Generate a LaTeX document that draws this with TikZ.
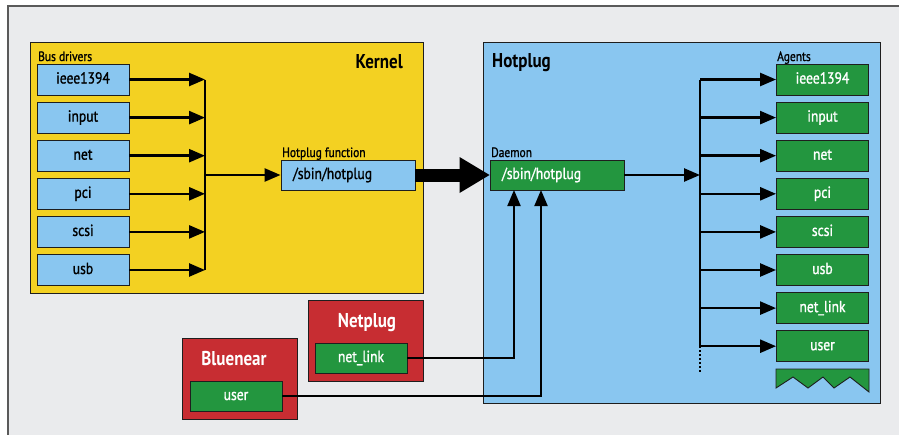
\documentclass[tikz,border=0pt]{standalone}
\usepackage{fontspec}
\setmainfont{PT Sans}[FakeStretch=0.85, UprightFeatures={FakeBold=1.2}]
\usepackage{tikz}
\usetikzlibrary{arrows.meta,positioning}
\definecolor{paper}{HTML}{EAEBED}
\definecolor{frame}{HTML}{5A5A5A}
\definecolor{edge}{HTML}{1E1E1E}
\definecolor{kernelbg}{HTML}{F3D122}
\definecolor{sky}{HTML}{89C6F0}
\definecolor{leaf}{HTML}{23963F}
\definecolor{plugred}{HTML}{C72D32}
\tikzset{
  panel/.style={draw=edge, line width=0.9pt, inner sep=0pt},
  drvbox/.style={draw=edge, line width=0.9pt, fill=sky, minimum width=92pt, minimum height=31pt, inner sep=0pt, text height=11pt, text depth=3pt, font=\fontsize{16}{18}\selectfont},
  agentbox/.style={drvbox, fill=leaf, text=white},
  cmdbox/.style={drvbox, minimum height=30pt, text width=110pt, align=left, inner xsep=12pt},
  tag/.style={font=\fontsize{13.5}{15}\selectfont, anchor=base west, inner sep=0pt},
  title/.style={font=\bfseries\fontsize{20}{22}\selectfont, inner sep=0pt},
  wire/.style={line width=2.5pt},
  feed/.style={-{Triangle[length=16pt,width=13pt]}}
}

\begin{document}
\begin{tikzpicture}[x=1pt,y=-1pt]
\useasboundingbox (0,0) rectangle (899,434);
\fill[white] (0,0) rectangle (899,434);
\draw[frame, line width=1.2pt, fill=paper] (8,6) rectangle (912,446);

% kernel side
\node[panel, fill=kernelbg, minimum width=393pt, minimum height=251pt] (kernel) at (226.5,167.5) {};
\node[title, anchor=base east] (kernelname) at (403,68) {Kernel};
\node[tag] (busdrivers) at (38,61) {Bus drivers};
\foreach \i/\name in {0/ieee1394,1/input,2/net,3/pci,4/scsi,5/usb}{
  \node[drvbox] (bus\i) at (83,79.5+38.1*\i) {\name};
}
\node[tag] (hpfunclabel) at (282,157) {Hotplug function};
\node[cmdbox] (hpfunc) at (348,175) {/sbin/hotplug};
\coordinate (kjoin) at (205,175);
\foreach \i in {0,...,5}{
  \draw[wire,feed] (bus\i.east) -- (bus\i.east -| kjoin);
}
\draw[wire] (bus0.east -| kjoin) -- (bus5.east -| kjoin);
\draw[wire,feed] (kjoin) -- (hpfunc.west);

% hotplug side
\node[panel, fill=sky, minimum width=397pt, minimum height=361pt] (hotplug) at (681.5,222.5) {};
\node[title, anchor=base west] (hotplugname) at (492,67) {Hotplug};
\node[tag] (daemonlabel) at (491,157) {Daemon};
\node[cmdbox, fill=leaf, text=white] (daemon) at (557,175) {/sbin/hotplug};
\draw[line width=13pt, -{Triangle[length=30pt,width=36pt,line width=0pt]}] (hpfunc.east) -- (daemon.west);
\node[tag] (agentslabel) at (777,61) {Agents};
\foreach \i/\name in {0/ieee1394,1/input,2/net,3/pci,4/scsi,5/usb,6/net\_link,7/user}{
  \node[agentbox] (agent\i) at (822.5,79.5+38.1*\i) {\name};
}
\coordinate (ajoin) at (700,175);
\coordinate (aend) at (700,373);
\draw[wire,feed] (daemon.east) -- (ajoin);
\draw[wire] (agent0.west -| ajoin) -- (agent7.west -| ajoin);
\draw[line width=2pt, dash pattern=on 2pt off 2pt] (agent7.west -| ajoin) -- (aend);
\foreach \i in {0,...,7}{
  \draw[wire,feed] (agent\i.west -| ajoin) -- (agent\i.west);
}
\draw[draw=edge, line width=0.9pt, fill=leaf] (776,369) -- (869,369) -- (869,392) -- (850,377) -- (834,388) -- (823,377) -- (808,388) -- (793,377) -- (776,388) -- cycle;

% user space helpers
\node[panel, fill=plugred, minimum width=115pt, minimum height=81pt] (netplug) at (365.5,340.5) {};
\node[title, anchor=base, text=white] (netplugname) at (367,327) {Netplug};
\node[agentbox, minimum height=30pt] (netlink) at (361,358) {net\_link};
\node[panel, fill=plugred, minimum width=115pt, minimum height=81pt] (bluenear) at (239.5,378.5) {};
\node[title, anchor=base, text=white] (bluenearname) at (234,365) {Bluenear};
\node[agentbox, minimum height=30pt] (user) at (236,396) {user};
\coordinate (din1) at (514,190);
\coordinate (din2) at (541,190);
\draw[line width=2pt,feed] (netlink.east) -| (din1);
\draw[line width=2pt,feed] (user.east) -| (din2);
\end{tikzpicture}
\end{document}
